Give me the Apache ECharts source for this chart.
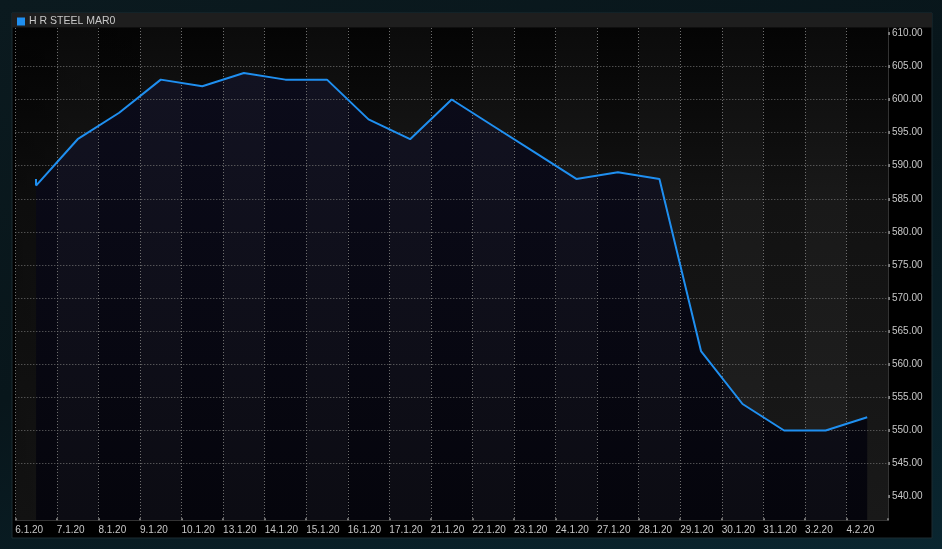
<!DOCTYPE html>
<html>
<head>
<meta charset="utf-8">
<script src="https://cdn.jsdelivr.net/npm/echarts@6/dist/echarts.min.js"></script>
<style>
  html, body { margin: 0; padding: 0; }
  body {
    width: 942px; height: 549px; overflow: hidden;
    background: linear-gradient(160deg, #0b1a1f 0%, #08161b 45%, #0a2630 100%);
  }
  #chart { width: 942px; height: 549px; }
</style>
</head>
<body>
<div id="chart"></div>
<script>
const seriesName = 'H R STEEL MAR0';
const categories = ['6.1.20','7.1.20','8.1.20','9.1.20','10.1.20','13.1.20','14.1.20','15.1.20','16.1.20','17.1.20','21.1.20','22.1.20','23.1.20','24.1.20','27.1.20','28.1.20','29.1.20','30.1.20','31.1.20','3.2.20','4.2.20'];
const values = [587,594,598,603,602,604,603,603,597,594,600,596,592,588,589,588,562,554,550,550,552];
const firstOpen = 588;
const yTicks = [540,545,550,555,560,565,570,575,580,585,590,595,600,605,610];

const FONT = "'Liberation Sans', Arial, sans-serif";
const LABEL = '#c8c8c8';
const LINE = '#1f8ff0';
const DOT = { color: '#6e6e6e', type: [1, 2], width: 1 };

const chart = echarts.init(document.getElementById('chart'), null, { renderer: 'canvas' });
chart.setOption({
  animation: false,
  backgroundColor: 'transparent',
  graphic: [
    { type: 'rect', z: -100, shape: { x: 12, y: 13, width: 920, height: 525 },
      style: { fill: '#000', stroke: '#1c2d33', lineWidth: 1 } },
    { type: 'rect', z: -99, shape: { x: 12, y: 13, width: 920, height: 14.5 },
      style: { fill: '#1e1e1e' } },
    { type: 'rect', z: -98, shape: { x: 15.3, y: 28, width: 872.7, height: 492.3 },
      style: { fill: { type: 'linear', x: 0, y: 0, x2: 0, y2: 1, colorStops: [
        { offset: 0, color: '#040404' }, { offset: 0.35, color: '#121212' }, { offset: 1, color: '#191919' } ] } } },
    { type: 'rect', z: -97, shape: { x: 15.3, y: 28, width: 872.7, height: 492.3 },
      style: { fill: { type: 'linear', x: 0, y: 0, x2: 1, y2: 0, colorStops: [
        { offset: 0, color: 'rgba(0,0,0,0.3)' }, { offset: 0.2, color: 'rgba(0,0,0,0)' }, { offset: 1, color: 'rgba(0,0,0,0)' } ] } } }
  ],
  legend: {
    data: [seriesName], left: 17, top: 16, padding: 0, icon: 'rect',
    itemWidth: 8, itemHeight: 8, itemGap: 4,
    textStyle: { color: LABEL, fontSize: 10.5, fontFamily: FONT, padding: [0, 0, 0, -1] }
  },
  grid: { left: 15.3, right: 54, top: 28, bottom: 28.7, show: false },
  xAxis: [
    { type: 'category', data: categories, boundaryGap: true, show: false },
    { type: 'category', data: categories.concat(['']), boundaryGap: false, position: 'bottom', z: 3,
      axisLine: { show: true, lineStyle: { color: '#333' } },
      axisTick: { show: true, inside: true, length: 2, interval: 0, lineStyle: { color: '#777', width: 2 } },
      axisLabel: { interval: 0, align: 'left', margin: 5, color: LABEL, fontSize: 10, fontFamily: FONT },
      splitLine: { show: true, interval: 0, lineStyle: DOT },
      splitArea: { show: true, interval: 0, areaStyle: { color: ['rgba(255,255,255,0)', 'rgba(255,255,255,0.03)'] } }
    }
  ],
  yAxis: {
    type: 'value', position: 'right', min: 536.43, max: 610.8, splitNumber: 15,
    minInterval: 5, maxInterval: 5, z: 3, scale: true,
    axisLine: { show: true, lineStyle: { color: '#333' } },
    axisTick: { show: true, length: 2, customValues: yTicks, lineStyle: { color: '#777', width: 3 } },
    axisLabel: { margin: 4, color: LABEL, fontSize: 10, fontFamily: FONT, customValues: yTicks,
      formatter: v => Number(v).toFixed(2) },
    splitLine: { show: true, showMinLine: false, showMaxLine: false, lineStyle: DOT }
  },
  series: [
    { type: 'line', name: 'area', xAxisIndex: 0, data: values, symbol: 'none', silent: true, z: 1,
      lineStyle: { width: 0 },
      areaStyle: { opacity: 1, color: { type: 'linear', x: 0, y: 0, x2: 0, y2: 1, colorStops: [
        { offset: 0, color: '#0b0b1a' }, { offset: 1, color: '#05050c' } ] } } },
    { type: 'line', name: seriesName, xAxisIndex: 0, data: values, symbol: 'none', z: 5,
      itemStyle: { color: LINE },
      lineStyle: { color: LINE, width: 2 },
      markLine: { silent: true, symbol: ['none', 'none'], label: { show: false },
        lineStyle: { type: 'solid', color: LINE, width: 2 },
        data: [[ { coord: [categories[0], firstOpen] }, { coord: [categories[0], values[0]] } ]] } }
  ]
});
</script>
</body>
</html>
